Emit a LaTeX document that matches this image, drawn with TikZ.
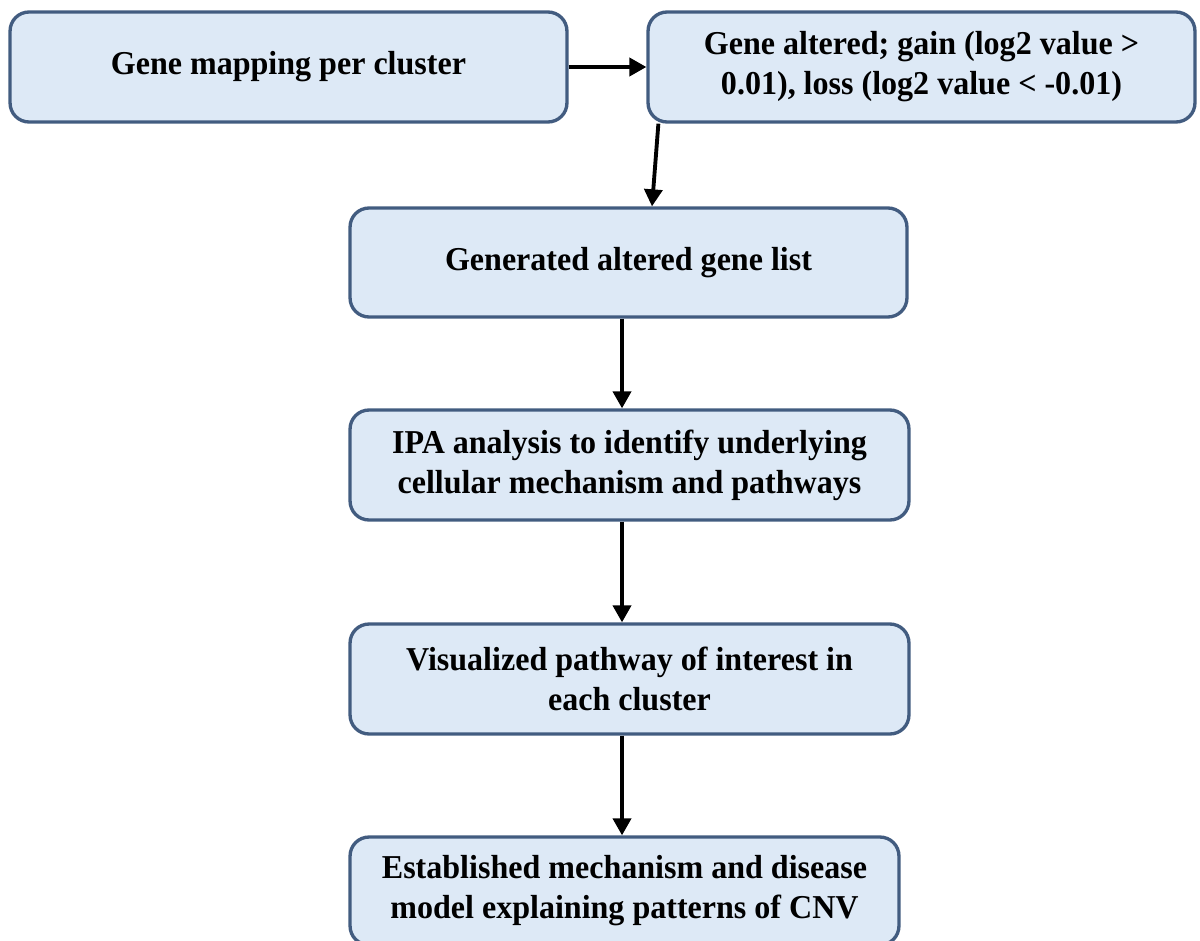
\documentclass[tikz,border=0pt]{standalone}
\usepackage{fontspec}
\setmainfont{Liberation Serif}[FakeStretch=0.96]
\usepackage{xcolor}
\usepackage{tikz}
\usetikzlibrary{positioning,arrows.meta}
\definecolor{boxfill}{RGB}{221,233,246}
\definecolor{boxline}{RGB}{66,92,128}

\begin{document}
\begin{tikzpicture}[x=0.02cm, y=-0.02cm,
      box/.style={draw=boxline, line width=1.9pt, rounded corners=0.38cm, fill=boxfill,
                  minimum height=2.2cm, align=center, inner sep=0pt,
                  font=\bfseries\fontsize{19}{22.8}\selectfont},
      arr/.style={-{Triangle[length=0.34cm, width=0.36cm]}, line width=2.2pt}]
    \useasboundingbox (0,0) rectangle (1200,940);
    \node[box, minimum width=11.14cm] (map) at (288.5,67) {Gene mapping per cluster};
    \node[box, minimum width=10.94cm] (alt) at (921.5,67)
         {Gene altered; gain (log2 value >\\0.01), loss (log2 value < -0.01)};
    \node[box, minimum width=11.14cm, minimum height=2.18cm] (list) at (628.5,262.5)
         {Generated altered gene list};
    \node[box, minimum width=11.18cm] (ipa) at (629.5,465)
         {IPA analysis to identify underlying\\cellular mechanism and pathways};
    \node[box, minimum width=11.18cm] (vis) at (629.5,679)
         {Visualized pathway of interest in\\each cluster};
    \node[box, minimum width=10.98cm, minimum height=2.16cm] (model) at (624.5,891)
         {Established mechanism and disease\\model explaining patterns of CNV};
    \coordinate (spine) at (622,0);
    \draw[arr] (map) -- (alt);
    \draw[arr] ([xshift=0.24cm]alt.south west) -- ([xshift=0.47cm]list.north);
    \draw[arr] (list.south -| spine) -- (ipa.north -| spine);
    \draw[arr] (ipa.south -| spine) -- (vis.north -| spine);
    \draw[arr] (vis.south -| spine) -- (model.north -| spine);
  \end{tikzpicture}
\end{document}
